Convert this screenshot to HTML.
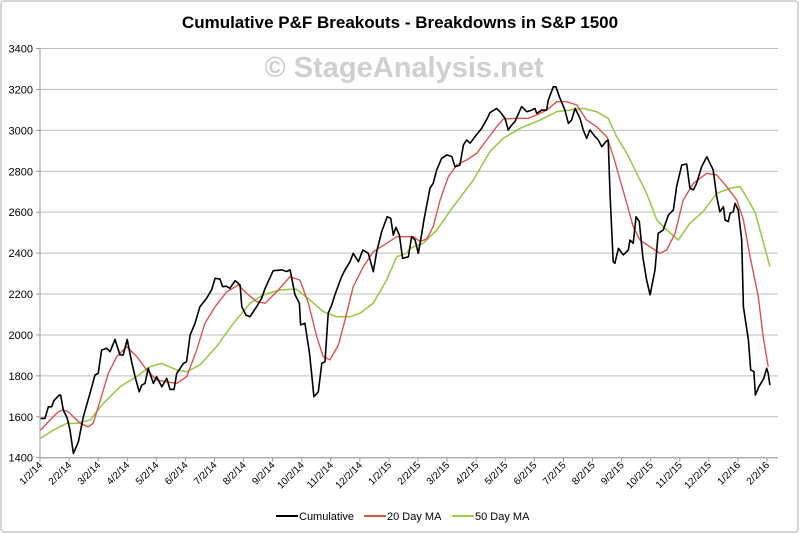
<!DOCTYPE html>
<html><head><meta charset="utf-8"><style>
body{margin:0;background:#fff;}
svg{display:block;font-family:"Liberation Sans",Arial,sans-serif;}
</style></head><body>
<svg id="chart" width="800" height="534" viewBox="0 0 800 534">
<rect x="1" y="1" width="797" height="531" fill="#fff" stroke="#c8c8c8" stroke-width="1.5" rx="3"/>
<text x="400" y="28" text-anchor="middle" font-size="17" font-weight="bold" fill="#000">Cumulative P&amp;F Breakouts - Breakdowns in S&amp;P 1500</text>
<g id="grid"></g>
<g id="yticks"></g>
<g id="xticks"></g>
<text x="404" y="77" text-anchor="middle" font-size="29" font-weight="bold" fill="#cfcfcf">© StageAnalysis.net</text>
<g id="series"></g>
<g>
<g><line x1="276" y1="516" x2="298" y2="516" stroke="#000" stroke-width="2"/><text x="299" y="520" font-size="11">Cumulative</text></g>
<g><line x1="364" y1="516" x2="386" y2="516" stroke="#d9534f" stroke-width="2"/><text x="387" y="520" font-size="11">20 Day MA</text></g>
<g><line x1="452" y1="516" x2="474" y2="516" stroke="#9bc94b" stroke-width="2"/><text x="475" y="520" font-size="11">50 Day MA</text></g>
</g>
</svg>
<script>
const xLabels=["1/2/14","2/2/14","3/2/14","4/2/14","5/2/14","6/2/14","7/2/14","8/2/14","9/2/14","10/2/14","11/2/14","12/2/14","1/2/15","2/2/15","3/2/15","4/2/15","5/2/15","6/2/15","7/2/15","8/2/15","9/2/15","10/2/15","11/2/15","12/2/15","1/2/16","2/2/16"];
const yTicks=[1400,1600,1800,2000,2200,2400,2600,2800,3000,3200,3400];
const cumMonths=[0.02,0.17,0.29,0.40,0.48,0.66,0.71,0.80,0.94,1.03,1.15,1.32,1.49,1.72,1.89,2.00,2.12,2.29,2.41,2.58,2.75,2.86,3.00,3.15,3.27,3.41,3.50,3.61,3.72,3.90,4.01,4.19,4.36,4.47,4.61,4.70,4.93,5.04,5.16,5.33,5.50,5.73,5.90,6.02,6.19,6.28,6.40,6.53,6.71,6.88,6.94,7.08,7.22,7.45,7.62,7.74,8.02,8.31,8.48,8.60,8.77,8.92,8.96,9.11,9.26,9.34,9.42,9.57,9.69,9.80,9.91,10.03,10.14,10.37,10.49,10.66,10.77,10.95,11.10,11.29,11.46,11.58,11.75,11.94,12.06,12.15,12.24,12.36,12.47,12.67,12.78,12.90,13.01,13.13,13.20,13.41,13.52,13.64,13.81,13.99,14.16,14.27,14.44,14.56,14.67,14.79,14.96,15.19,15.38,15.47,15.70,15.82,15.99,16.10,16.22,16.33,16.56,16.74,16.91,17.02,17.08,17.25,17.42,17.48,17.65,17.74,17.86,18.05,18.17,18.28,18.40,18.57,18.68,18.80,18.91,19.09,19.20,19.32,19.46,19.54,19.60,19.71,19.77,19.89,20.06,20.23,20.29,20.40,20.50,20.61,20.73,20.86,20.98,21.15,21.26,21.43,21.61,21.78,21.89,22.07,22.24,22.35,22.47,22.58,22.75,22.93,23.04,23.15,23.27,23.38,23.50,23.56,23.67,23.73,23.84,23.90,24.01,24.13,24.19,24.36,24.44,24.55,24.60,24.72,24.82,24.89,24.99,25.04,25.10];
const cumValues=[1592,1592,1649,1649,1679,1706,1706,1633,1592,1535,1421,1478,1600,1715,1804,1812,1926,1935,1918,1978,1902,1902,1978,1869,1796,1722,1755,1763,1837,1763,1796,1747,1788,1734,1734,1812,1861,1869,1999,2057,2138,2179,2220,2277,2273,2236,2238,2228,2265,2244,2138,2097,2089,2138,2179,2228,2314,2318,2310,2318,2196,2155,2049,2057,1918,1812,1698,1722,1861,1869,2106,2146,2196,2285,2318,2358,2399,2358,2415,2399,2309,2407,2505,2578,2570,2488,2526,2488,2374,2382,2480,2464,2399,2497,2562,2717,2741,2806,2863,2880,2872,2822,2830,2928,2953,2937,2969,3010,3059,3086,3107,3091,3059,3002,3026,3042,3116,3091,3099,3107,3083,3099,3099,3148,3213,3213,3164,3099,3034,3050,3107,3059,3002,2961,3002,2969,2953,2920,2945,2953,2692,2358,2350,2423,2391,2415,2464,2448,2578,2554,2382,2268,2196,2318,2497,2513,2586,2611,2725,2831,2835,2717,2709,2741,2822,2871,2839,2806,2676,2602,2627,2562,2554,2595,2602,2643,2611,2464,2138,1976,1829,1821,1706,1747,1771,1788,1837,1812,1755];
const ma20Months=[0.02,0.34,0.63,0.80,0.97,1.38,1.66,1.83,2.06,2.35,2.64,2.98,3.33,3.67,4.01,4.36,4.70,5.04,5.39,5.67,6.02,6.42,6.82,7.11,7.45,7.74,8.14,8.60,8.94,9.23,9.52,9.74,9.97,10.26,10.49,10.77,11.12,11.46,11.92,12.27,12.61,12.84,13.07,13.30,13.52,13.76,14.04,14.33,14.67,15.02,15.36,15.70,15.93,16.39,16.79,17.08,17.42,17.77,18.11,18.46,18.80,19.14,19.49,19.72,19.95,20.18,20.40,20.63,20.98,21.32,21.55,21.84,22.12,22.47,22.93,23.27,23.61,23.96,24.19,24.42,24.70,24.87,25.04];
const ma20Values=[1535,1584,1625,1633,1625,1568,1551,1568,1674,1812,1894,1943,1894,1829,1780,1771,1763,1796,1926,2057,2138,2211,2244,2203,2163,2155,2211,2285,2268,2155,1991,1894,1878,1951,2073,2236,2334,2407,2448,2480,2480,2480,2456,2470,2529,2659,2773,2831,2855,2888,2953,3018,3055,3059,3059,3075,3099,3140,3140,3124,3050,3018,2969,2871,2757,2643,2529,2464,2431,2399,2415,2497,2659,2741,2790,2782,2725,2659,2562,2382,2187,1991,1845];
const ma50Months=[0.02,0.46,0.92,1.27,1.72,2.18,2.75,3.32,3.78,4.18,4.70,5.04,5.50,6.07,6.65,7.22,7.68,8.25,8.82,9.28,9.74,10.20,10.66,11.00,11.46,11.92,12.27,12.61,12.72,13.18,13.64,14.21,14.90,15.47,15.93,16.51,17.19,17.77,18.23,18.68,19.14,19.54,19.83,20.18,20.52,20.86,21.21,21.55,21.95,22.35,22.80,23.27,23.73,24.07,24.36,24.60,24.82,25.10];
const ma50Values=[1495,1535,1568,1568,1584,1666,1747,1796,1845,1861,1829,1820,1853,1943,2057,2155,2196,2220,2224,2171,2114,2089,2089,2106,2155,2268,2382,2400,2423,2448,2513,2627,2757,2896,2961,3010,3050,3091,3099,3107,3091,3059,2969,2888,2790,2692,2562,2513,2464,2546,2602,2692,2717,2725,2659,2595,2480,2334];

const NS="http://www.w3.org/2000/svg";
const X0=40,XW=29.08,Y0=457.7,Y1=48.5,VMIN=1400,VMAX=3400,XR=778;
function xs(m){return X0+m*XW;}
function ys(v){return Y0-(v-VMIN)/(VMAX-VMIN)*(Y0-Y1);}
function mk(tag,attrs,parent){const e=document.createElementNS(NS,tag);for(const k in attrs)e.setAttribute(k,attrs[k]);parent.appendChild(e);return e;}
const grid=document.getElementById('grid'),yt=document.getElementById('yticks'),xt=document.getElementById('xticks'),ser=document.getElementById('series');
yTicks.forEach(v=>{
  const l=mk('line',{x1:X0,x2:XR,y1:ys(v),y2:ys(v),stroke:'#bdbdbd','stroke-width':1},grid);
  
  
  mk('line',{x1:X0-4,x2:X0,y1:ys(v),y2:ys(v),stroke:'#999'},yt);
  const t=mk('text',{x:X0-7,y:ys(v)+4,'text-anchor':'end','font-size':11,fill:'#000'},yt);
  t.textContent=v;
  
  
});
mk('line',{x1:X0,x2:X0,y1:Y1,y2:Y0,stroke:'#999'},yt);
mk('line',{x1:X0,x2:XR,y1:Y0,y2:Y0,stroke:'#999'},xt);
xLabels.forEach((s,i)=>{
  const x=xs(i);
  mk('line',{x1:x,x2:x,y1:Y0,y2:Y0+4,stroke:'#999'},xt);
  const t=mk('text',{x:x+3,y:Y0+8,'text-anchor':'end','font-size':10,fill:'#000',transform:`rotate(-45 ${x+3} ${Y0+8})`},xt);
  t.textContent=s;
  
  
});
function line(ms,vs,color,w,name){
  const d=ms.map((m,i)=>(i?'L':'M')+xs(m).toFixed(1)+','+ys(vs[i]).toFixed(1)).join('');
  const p=mk('path',{d:d,fill:'none',stroke:color,'stroke-width':w,'stroke-linejoin':'round'},ser);
  
  
}
line(ma50Months,ma50Values,'#9bc94b',1.6,'line-50-day-ma');
line(ma20Months,ma20Values,'#d9534f',1.4,'line-20-day-ma');
line(cumMonths,cumValues,'#000',1.6,'line-cumulative');
</script>
</body></html>
